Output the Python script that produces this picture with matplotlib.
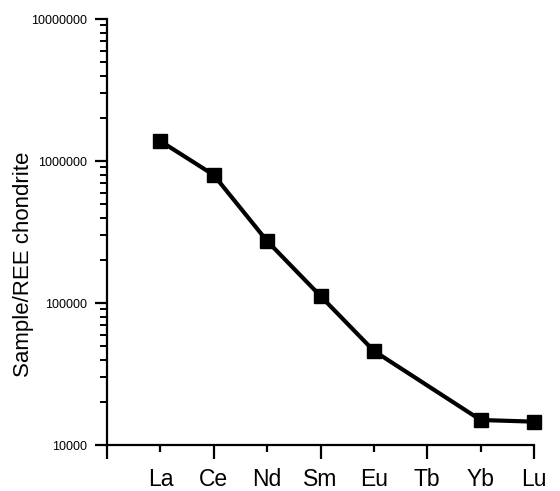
import matplotlib
matplotlib.use("Agg")
import matplotlib.pyplot as plt
from matplotlib.ticker import LogLocator, NullFormatter, FixedLocator

plt.rcParams['font.family'] = ['Liberation Sans', 'DejaVu Sans']

elements = ['La', 'Ce', 'Nd', 'Sm', 'Eu', 'Tb', 'Yb', 'Lu']
x_pos = [1, 2, 3, 4, 5, 7, 8]
values = [1.38e6, 7.97e5, 2.73e5, 1.12e5, 4.6e4, 1.5e4, 1.46e4]
ytick_vals = [1e4, 1e5, 1e6, 1e7]
ytick_labels = ['10000', '100000', '1000000', '10000000']

fig = plt.figure(figsize=(5.6, 4.91), dpi=100)
ax = fig.add_axes([107/560, 1-445/491, (534-107)/560, (445-19)/491])

ax.plot(x_pos, values, color='black', linewidth=3, marker='s', markersize=10.5,
        markerfacecolor='black', markeredgecolor='black', clip_on=False)

ax.set_yscale('log')
ax.set_ylim(1e4, 1e7)
ax.set_xlim(0, 8)

ax.set_yticks(ytick_vals)
ax.set_yticklabels(ytick_labels)
ax.yaxis.set_minor_locator(LogLocator(base=10, subs=range(2, 10)))
ax.yaxis.set_minor_formatter(NullFormatter())

ax.set_xticks(list(range(0, 9)))
ax.set_xticklabels([''] + elements)
ax.xaxis.set_minor_locator(FixedLocator([]))

for s in ['top', 'right']:
    ax.spines[s].set_visible(False)
for s in ['left', 'bottom']:
    ax.spines[s].set_linewidth(1.6)

ax.tick_params(axis='y', which='major', direction='out', length=9, width=1.6,
               labelsize=9, pad=5)
ax.tick_params(axis='y', which='minor', direction='out', length=5, width=1.4)
ax.tick_params(axis='x', which='major', direction='out', length=10, width=1.6,
               labelsize=16.5, pad=6.5)

for i, t in enumerate(ax.xaxis.get_major_ticks()):
    if i % 2 == 1:
        t.tick1line.set_markersize(5)

fig.text(24/560, 1-264/491, 'Sample/REE chondrite', rotation=90,
         ha='center', va='center', fontsize=16)

fig.savefig('out.png', dpi=100)
